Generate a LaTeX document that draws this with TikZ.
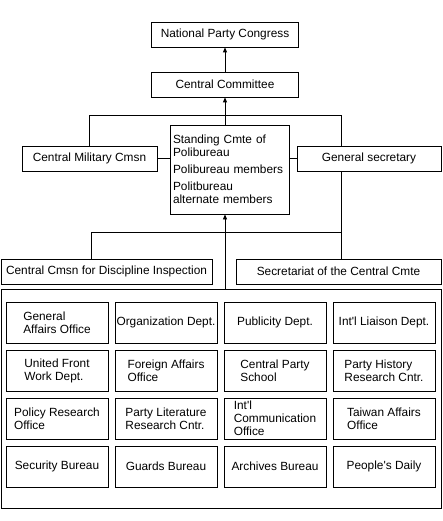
\documentclass[tikz,border=0pt]{standalone}
\usepackage{fontspec}
\setmainfont{Liberation Sans}
\usetikzlibrary{arrows.meta,calc}

\begin{document}
\begin{tikzpicture}[x=1bp,y=-1bp,line width=0.8bp,
  font=\fontsize{11.9}{13}\selectfont,
  box/.style={draw,rectangle,inner sep=2bp,align=left},
  dept/.style={box,inner xsep=1bp,minimum width=102bp,minimum height=41bp},
  arr/.style={-{Triangle[length=5bp,width=4bp]}}]
  \useasboundingbox (0,0) rectangle (443,521);
  \node[box,minimum width=147bp,minimum height=25bp] (npc) at (225,34.5) {National Party Congress};
  \node[box,minimum width=147bp,minimum height=25bp] (cc) at (225,84.5) {Central Committee};
  \node[box,inner xsep=3bp,text width=113bp,minimum height=89bp] (stand) at (229.5,169.5)
    {Standing Cmte of\\Polibureau\\[4bp]Polibureau members\\[4bp]Politbureau\\alternate members};
  \node[box,minimum width=135bp,minimum height=25bp] (cmc) at (89.5,158.5) {Central Military Cmsn};
  \node[box,minimum width=144bp,minimum height=25bp] (gs) at (369,158.5) {General secretary};
  \node[box,minimum width=211bp,minimum height=25bp] (ccdi) at (106.5,271.5) {Central Cmsn for Discipline Inspection};
  \node[box,minimum width=205bp,minimum height=25bp] (sec) at (338.5,271.5) {Secretariat of the Central Cmte};
  \node[draw,rectangle,minimum width=440bp,minimum height=219bp] (frame) at (221,398.5) {};
  \foreach \txt [count=\k from 0] in {{General\\Affairs Office},{Organization Dept.},{Publicity Dept.},{Int\textquotesingle l Liaison Dept.},
      {United Front\\Work Dept.},{Foreign Affairs\\Office},{Central Party\\School},{Party History\\Research Cntr.},
      {Policy Research\\Office},{Party Literature\\Research Cntr.},{Int\textquotesingle l\\Communication\\Office},{Taiwan Affairs\\Office},
      {Security Bureau},{Guards Bureau},{Archives Bureau},{People\textquotesingle s Daily}}{
    \pgfmathsetmacro{\cx}{57+109*mod(\k,4)}
    \pgfmathsetmacro{\cy}{322.5+48*int(\k/4)}
    \node[dept] (d\k) at (\cx,\cy) {\txt};
  }
  \coordinate (rbar) at (341,115);
  \coordinate (lbar) at (91,232);
  \draw[arr] (cc) -- (npc);
  \draw[arr] (stand.north -| cc) -- (cc);
  \draw (cmc.north) |- (rbar) -- (rbar |- gs.north);
  \draw (gs.south -| rbar) -- (rbar |- sec.north);
  \draw (ccdi.north -| lbar) -- (lbar) -- (lbar -| rbar);
  \draw (cmc.east) -- (cmc.east -| stand.west);
  \draw (gs.west) -- (gs.west -| stand.east);
  \draw[arr] (frame.north -| cc) -- (stand.south -| cc);
\end{tikzpicture}
\end{document}
